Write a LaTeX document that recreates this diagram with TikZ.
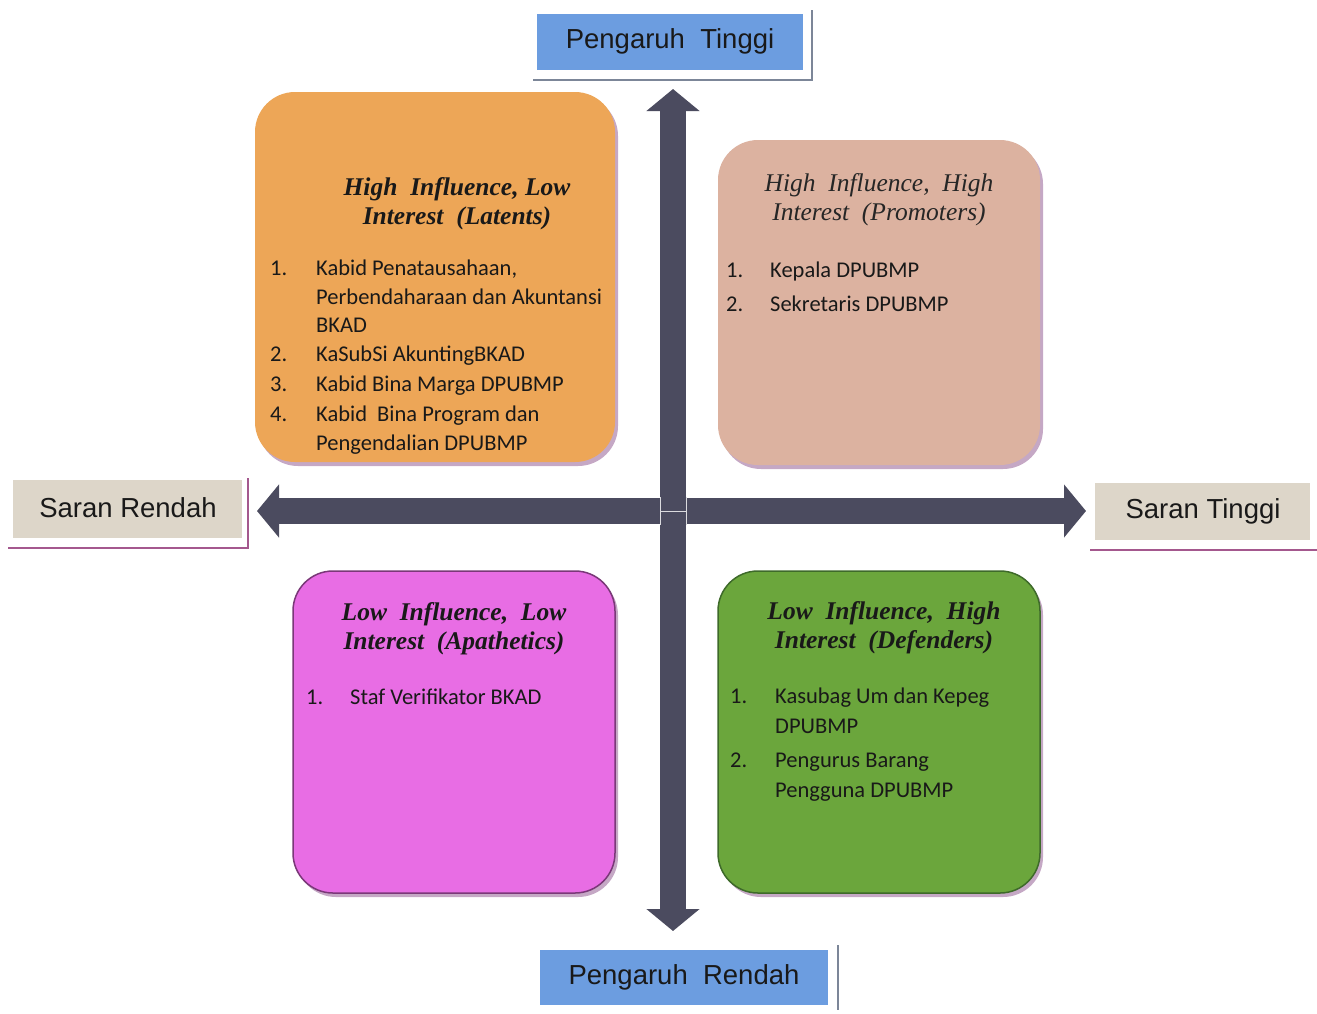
\documentclass[tikz,border=0pt]{standalone}
\usepackage{fontspec}
\setmainfont{Liberation Serif}
\newfontfamily\labfont{Liberation Sans}
\newfontfamily\listfont{Carlito}
\usetikzlibrary{shadows,arrows.meta}
\definecolor{labblue}{HTML}{6C9DE0}
\definecolor{labbeige}{HTML}{DDD6C9}
\definecolor{framegray}{HTML}{7C8698}
\definecolor{framepurple}{HTML}{A4588E}
\definecolor{qorange}{HTML}{EDA657}
\definecolor{qtan}{HTML}{DCB2A0}
\definecolor{qmagenta}{HTML}{E86DE4}
\definecolor{qmagentadark}{HTML}{7A3878}
\definecolor{qgreen}{HTML}{6BA63C}
\definecolor{qgreendark}{HTML}{3E6A2A}
\definecolor{arrowcol}{HTML}{4B4B5F}
\tikzset{
  lab/.style={inner sep=0pt, font=\labfont\fontsize{27.5}{32}\selectfont, text=black!90},
  quad/.style={rounded corners=40pt, drop shadow={shadow xshift=3pt, shadow yshift=-4pt, opacity=0.45, fill=violet!50!gray}},
  qtitle/.style={align=center, inner sep=0pt, font=\fontsize{25.5}{29}\selectfont\bfseries\itshape, text=black!90},
  qtitlen/.style={align=center, inner sep=0pt, font=\fontsize{25.5}{29}\selectfont\itshape, text=black!85},
  item/.style={anchor=base west, inner sep=0pt, font=\listfont\fontsize{22.5}{29}\selectfont, text=black!90},
  axis/.style={line width=26pt, arrowcol, -{Triangle[width=52pt,length=22pt]}, shorten >=-1pt},
}
\begin{document}
\begin{tikzpicture}[x=1pt,y=-1pt]
\useasboundingbox (0,0) rectangle (1317,1013);
\fill[white] (0,0) rectangle (1317,1013);

% axis labels
\fill[labblue] (537,14) rectangle (803,70);
\draw[framegray, line width=1.5pt] (812,10) -- (812,80) -- (533,80);
\node[lab] (pt) at (670,41) {Pengaruh\ \ Tinggi};

\fill[labblue] (540,950) rectangle (828,1005);
\draw[framegray, line width=1.5pt] (838,945) -- (838,1010);
\node[lab] (pr) at (684,977) {Pengaruh\ \ Rendah};

\fill[labbeige] (13,480) rectangle (242,538);
\draw[framepurple, line width=1.5pt] (248,478) -- (248,548) -- (8,548);
\node[lab] (sr) at (128,508) {Saran Rendah};

\fill[labbeige] (1095,483) rectangle (1310,540);
\draw[framepurple, line width=2pt] (1090,550) -- (1317,550);
\node[lab] (st) at (1203,511) {Saran Tinggi};

% quadrants
\fill[qorange, quad] (255,92) rectangle (615,462);
\fill[qtan, quad] (718,140) rectangle (1040,465);
\filldraw[fill=qmagenta, draw=qmagentadark, line width=1.5pt, quad] (293,571) rectangle (615,893);
\filldraw[fill=qgreen, draw=qgreendark, line width=1.5pt, quad] (718,571) rectangle (1040,893);

% arrows
\coordinate (c) at (673,511);
\coordinate (lt) at (258,511);
\coordinate (rt) at (1085,511);
\coordinate (up) at (673,90);
\coordinate (dn) at (673,930);
\draw[axis] (c) -- (lt);
\draw[axis] (c) -- (rt);
\draw[axis] ([yshift=-1pt]c) -- (up);
\draw[axis] ([yshift=1pt]c) -- (dn);
\draw[white!80!arrowcol, line width=1pt] (660,497) -- (660,525) (686,497) -- (686,525) (660,511) -- (686,511);

% TL
\node[qtitle] (tlt) at (457,204) {High\ \ Influence, Low\\Interest\ \ (Latents)};
\node[item] (tl1n) at (270,275) {1.};
\node[item] (tl1) at (316,275) {Kabid Penatausahaan,};
\node[item] (tl1b) at (316,304) {Perbendaharaan dan Akuntansi};
\node[item] (tl1c) at (316,332) {BKAD};
\node[item] (tl2n) at (270,361) {2.};
\node[item] (tl2) at (316,361) {KaSubSi AkuntingBKAD};
\node[item] (tl3n) at (270,391) {3.};
\node[item] (tl3) at (316,391) {Kabid Bina Marga DPUBMP};
\node[item] (tl4n) at (270,421) {4.};
\node[item] (tl4) at (316,421) {Kabid\ \ Bina Program dan};
\node[item] (tl4b) at (316,450) {Pengendalian DPUBMP};

% TR
\node[qtitlen] (trt) at (879,200) {High\ \ Influence,\ \ High\\Interest\ \ (Promoters)};
\node[item] (tr1n) at (726,277) {1.};
\node[item] (tr1) at (770,277) {Kepala DPUBMP};
\node[item] (tr2n) at (726,311) {2.};
\node[item] (tr2) at (770,311) {Sekretaris DPUBMP};

% BL
\node[qtitle] (blt) at (454,629) {Low\ \ Influence,\ \ Low\\Interest\ \ (Apathetics)};
\node[item] (bl1n) at (306,704) {1.};
\node[item] (bl1) at (350,704) {Staf Verifikator BKAD};

% BR
\node[qtitle] (brt) at (884,628) {Low\ \ Influence,\ \ High\\Interest\ \ (Defenders)};
\node[item] (br1n) at (730,703) {1.};
\node[item] (br1) at (775,703) {Kasubag Um dan Kepeg};
\node[item] (br1b) at (775,733) {DPUBMP};
\node[item] (br2n) at (730,767) {2.};
\node[item] (br2) at (775,767) {Pengurus Barang};
\node[item] (br2b) at (775,797) {Pengguna DPUBMP};
\end{tikzpicture}
\end{document}
